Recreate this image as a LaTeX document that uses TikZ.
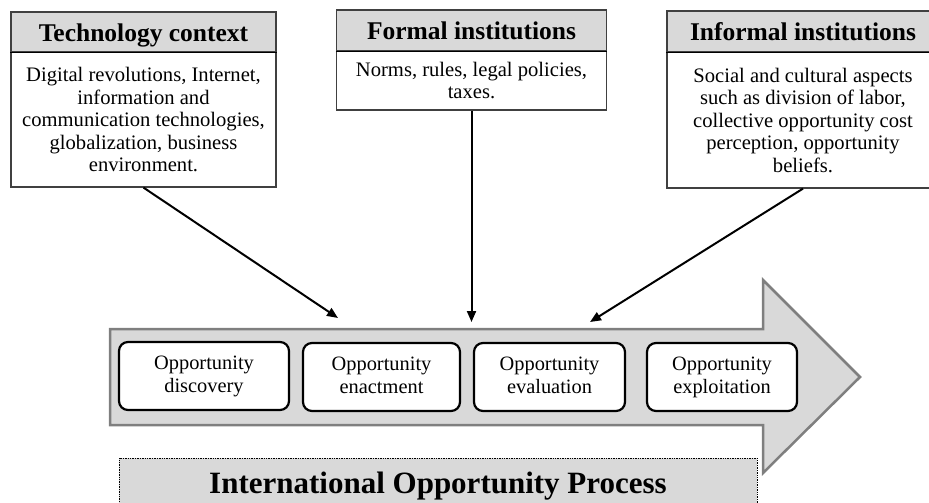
\documentclass[tikz,border=0pt]{standalone}
\usepackage{fontspec}
\setmainfont{Liberation Serif}
\usetikzlibrary{arrows.meta}
\definecolor{panelgray}{HTML}{D9D9D9}
\definecolor{edgegray}{HTML}{7F7F7F}
\definecolor{boxedge}{HTML}{404040}

\begin{document}
\begin{tikzpicture}[x=1pt,y=-1pt,
  headbox/.style={draw=boxedge, line width=1.2pt, fill=panelgray, inner sep=0pt,
    text height=19pt, text depth=0pt, font=\fontsize{25.5}{30}\selectfont\bfseries},
  bodybox/.style={draw=boxedge, line width=1.2pt, fill=white, inner sep=0pt,
    align=center, font=\fontsize{20.6}{22.5}\selectfont},
  stagebox/.style={draw=black, line width=2.2pt, rounded corners=9pt, fill=white,
    inner sep=0pt, align=center, minimum height=68pt, font=\fontsize{20.4}{23}\selectfont},
  divider/.style={draw=black, line width=1.8pt},
  conn/.style={line width=2pt, -{Triangle[length=11pt,width=9pt]}}
]
\clip (0,0) rectangle (929,503);

% process arrow
\draw[draw=edgegray, line width=2.5pt, fill=panelgray, line join=miter]
  (110,329) -- (763,329) -- (763,280) -- (860,377) -- (763,473) -- (763,425) -- (110,425) -- cycle;

% process stages
\node[stagebox, minimum width=170pt] (s1) at (204,376) {Opportunity\strut\\discovery\strut};
\node[stagebox, minimum width=157pt] (s2) at (381.5,377) {Opportunity\strut\\enactment\strut};
\node[stagebox, minimum width=151pt] (s3) at (549.5,377) {Opportunity\strut\\evaluation\strut};
\node[stagebox, minimum width=150pt] (s4) at (722,377) {Opportunity\strut\\exploitation\strut};

% process name
\node[draw=black, line width=0.7pt, densely dotted, fill=panelgray, inner sep=0pt,
  minimum width=638pt, minimum height=70pt, text height=0pt, text depth=0pt,
  font=\fontsize{31}{36}\selectfont\bfseries] (pname) at (438,493)
  {International Opportunity Process};

% technology context
\node[bodybox, minimum width=265pt, minimum height=135pt] (tech-b) at (143.5,119.5)
  {Digital revolutions, Internet,\\information and\\communication technologies,\\globalization, business\\environment.};
\node[headbox, minimum width=265pt, minimum height=40pt] (tech-h) at (143.5,32) {Technology context};
\draw[divider] (tech-h.south west) -- (tech-h.south east);

% formal institutions
\node[bodybox, minimum width=270pt, minimum height=59pt] (form-b) at (471.5,80.5)
  {Norms, rules, legal policies,\\taxes.};
\node[headbox, minimum width=270pt, minimum height=41pt] (form-h) at (471.5,30.5) {Formal institutions};
\draw[divider] (form-h.south west) -- (form-h.south east);

% informal institutions
\node[bodybox, minimum width=272pt, minimum height=136pt] (inf-b) at (803,120)
  {Social and cultural aspects\\such as division of labor,\\collective opportunity cost\\perception, opportunity\\beliefs.};
\node[headbox, minimum width=272pt, minimum height=41pt] (inf-h) at (803,31.5) {Informal institutions};
\draw[divider] (inf-h.south west) -- (inf-h.south east);

% influences on the process
\coordinate (tipA) at (338,318);
\coordinate (tipB) at (471.5,322);
\coordinate (tipC) at (590,322);
\draw[conn] (tech-b.south) -- (tipA);
\draw[conn] (form-b.south) -- (tipB);
\draw[conn] (inf-b.south) -- (tipC);
\end{tikzpicture}
\end{document}
